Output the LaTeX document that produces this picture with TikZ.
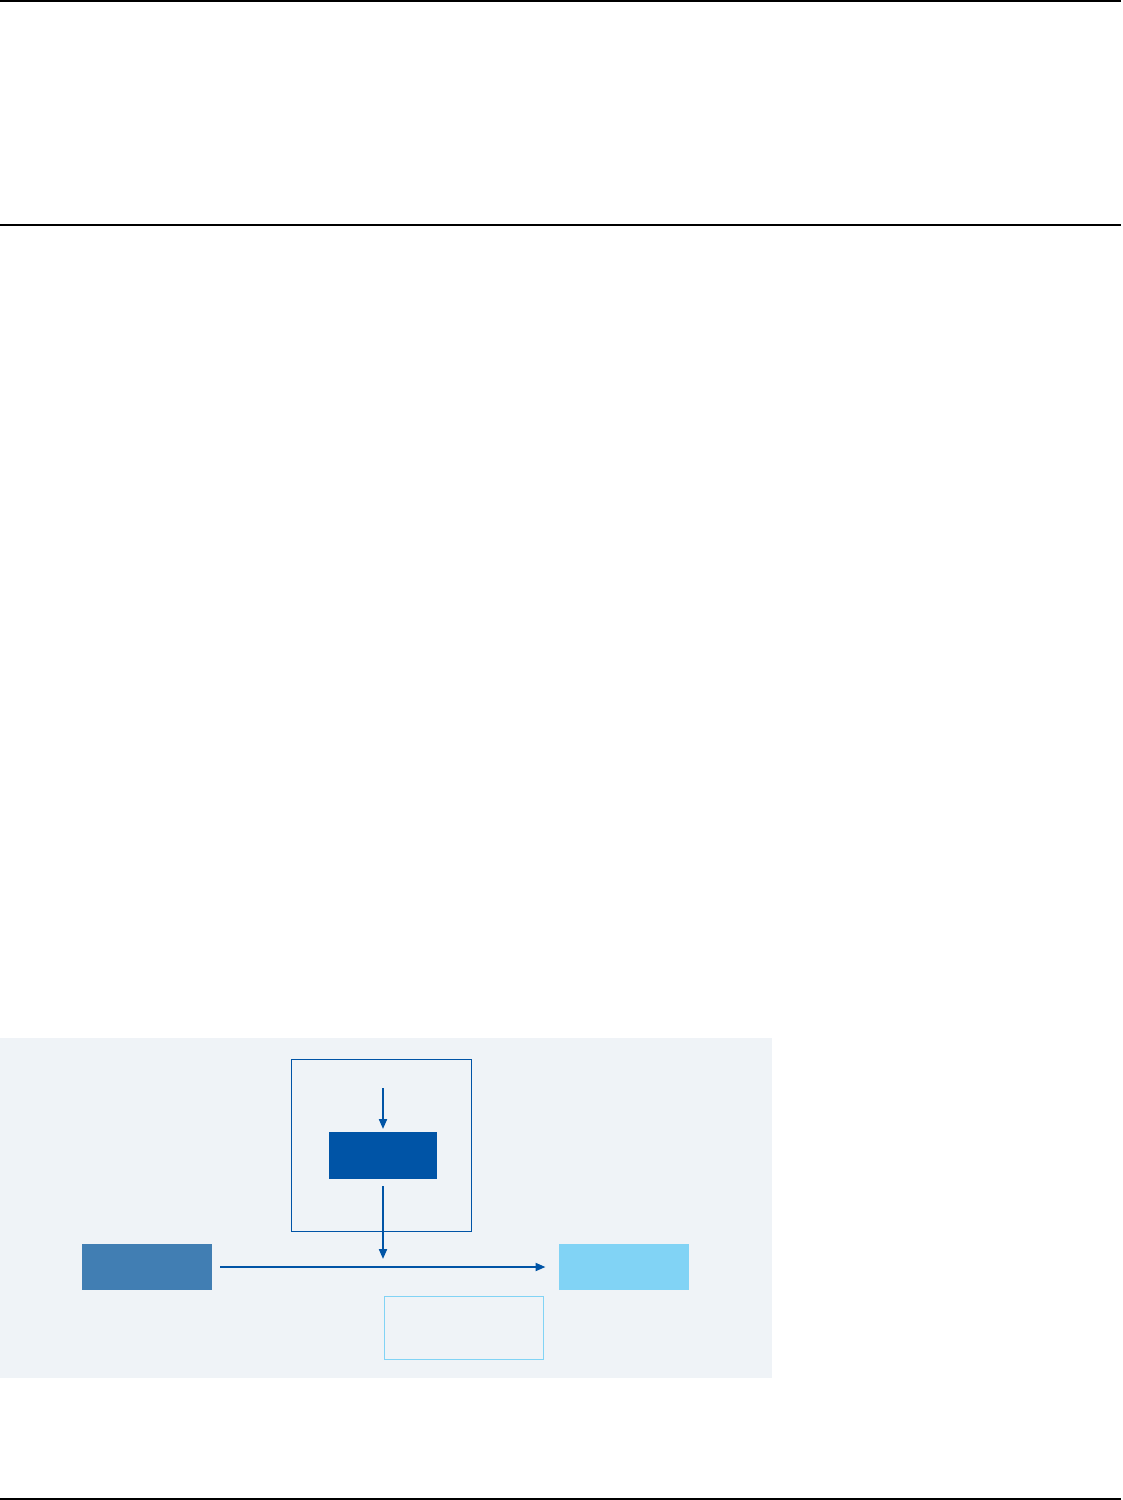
\documentclass[tikz,border=0pt]{standalone}
\usetikzlibrary{arrows.meta,positioning}
\definecolor{bgpanel}{RGB}{239,243,247}
\definecolor{darkblue}{RGB}{0,84,166}
\definecolor{midblue}{RGB}{65,126,179}
\definecolor{lightblue}{RGB}{129,211,245}
\tikzset{
  blockbox/.style={draw=none, inner sep=0pt, outer sep=0pt},
  flow/.style={draw=darkblue, line width=2pt, -{Triangle[length=10pt,width=8pt]}},
  rule/.style={draw=black, line width=1.5pt},
}
\begin{document}
\begin{tikzpicture}[x=1pt,y=-1pt]
\useasboundingbox (0,0) rectangle (1123,1500);
\fill[white] (0,0) rectangle (1123,1500);
% horizontal rules
\coordinate (r1a) at (0,1); \coordinate (r1b) at (1121,1);
\coordinate (r2a) at (0,225); \coordinate (r2b) at (1121,225);
\coordinate (r3a) at (0,1499); \coordinate (r3b) at (1121,1499);
\draw[rule] (r1a) -- (r1b);
\draw[rule] (r2a) -- (r2b);
\draw[rule] (r3a) -- (r3b);
% panel
\fill[bgpanel] (0,1038) rectangle (772,1378);
% frame
\node[blockbox, draw=darkblue, line width=1pt, minimum width=180pt, minimum height=172pt] (frame) at (381.5,1145.3) {};
% dark box
\node[blockbox, fill=darkblue, minimum width=108pt, minimum height=47pt] (core) at (383,1155.5) {};
% left box
\node[blockbox, fill=midblue, minimum width=130pt, minimum height=46pt] (left) at (147,1267) {};
% right box
\node[blockbox, fill=lightblue, minimum width=130pt, minimum height=46pt] (right) at (623.5,1267) {};
% outline box
\node[blockbox, draw=lightblue, line width=1pt, minimum width=159pt, minimum height=63pt] (note) at (463.8,1327.8) {};
% connectors
\coordinate (topin) at (383,1088);
\coordinate (join) at (383,1267);
\draw[flow, shorten >=3pt] (topin) -- (core.north);
\draw[flow, shorten <=7pt, shorten >=8pt] (core.south) -- (join);
\draw[flow, shorten <=8pt, shorten >=13pt] (left.east) -- (right.west);
\end{tikzpicture}
\end{document}
